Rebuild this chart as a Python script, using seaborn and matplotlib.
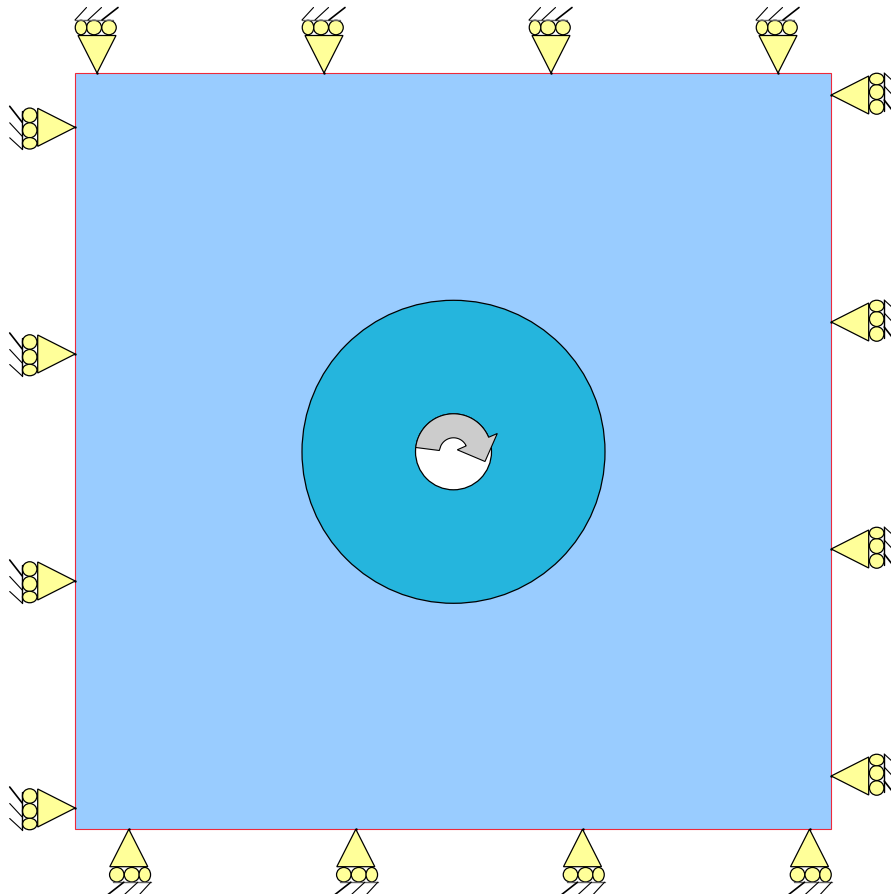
import numpy as np
import pandas as pd
import matplotlib.pyplot as plt
import seaborn as sns
from matplotlib.patches import Rectangle, Circle, Polygon, Ellipse

# support tips along each side (pixel coords of the picture)
left_tips_y = [128.3, 355, 582, 809]
right_tips_y = [96, 323, 550, 777]
top_tips_x = [97, 324, 551, 778]
bottom_tips_x = [128.8, 355.8, 582.5, 809.5]

# plate and disc
plate_x = [75.2, 831.2]
plate_y = [74, 830.2]
disc_center = (453.5, 452.8)
disc_radius = 151.5
hole_radius = 38

# support shape, depth = distance from the tip, lat = sideways
tri_depth = 37.5
tri_half = 19
roller_depth = 45.5
roller_lat = [-12, 3, 16]
roller_size = [14.5, 15, 11.5]
wall_depth = 53
wall_lat = [-16, 22]
hatch_lat = [-5, 9, 22]
hatch_reach = [16, 13.5, 11.5]
hatch_lw = [1.2, 0.8, 0.8]

# moment arrow
arrow_outer_deg = [173.5, 22.5]
arrow_inner_deg = [25, 155]
arrow_tail = (439.3, 451.5)
arrow_head = [(497.3, 434.5), (485, 462.5), (457.3, 450.8)]

PLATE_BLUE = '#99ccff'
DISC_BLUE = '#25b5dd'
YELLOW = '#ffff99'
GREY = '#cccccc'


def arc_points(radius, deg_from, deg_to):
    t = np.radians(np.linspace(deg_from, deg_to, 60))
    return np.column_stack([disc_center[0] + radius * np.cos(t), disc_center[1] - radius * np.sin(t)])


def draw_support(ax, tip, direction, lateral):
    tip = np.array(tip, dtype=float)
    d = np.array(direction, dtype=float)
    l = np.array(lateral, dtype=float)

    def pos(depth, lat):
        return tip + d * depth + l * lat

    tri = [pos(0, 0), pos(tri_depth, -tri_half), pos(tri_depth, tri_half)]
    ax.add_patch(Polygon(tri, closed=True, fc=YELLOW, ec='black', lw=0.9, zorder=3))

    for lat, size in zip(roller_lat, roller_size):
        w = size if d[0] == 0 else 14.5
        h = 14.5 if d[0] == 0 else size
        ax.add_patch(Ellipse(pos(roller_depth, lat), w, h, fc=YELLOW, ec='black', lw=0.9, zorder=3))

    # the wall line shows grey on the horizontal supports, black on the vertical ones
    wall_color = '#666666' if d[0] == 0 else 'black'
    a, b = pos(wall_depth, wall_lat[0]), pos(wall_depth, wall_lat[1])
    ax.plot([a[0], b[0]], [a[1], b[1]], color=wall_color, lw=1.0, zorder=3)
    for lat, reach, lw in zip(hatch_lat, hatch_reach, hatch_lw):
        a, b = pos(wall_depth, lat), pos(wall_depth + 12.5, lat - reach)
        ax.plot([a[0], b[0]], [a[1], b[1]], color='black', lw=lw, zorder=3)


sns.set_style('white')
fig, ax = plt.subplots(figsize=(8.91, 8.95), dpi=100)
fig.subplots_adjust(left=0, right=1, bottom=0, top=1)

ax.add_patch(Rectangle((plate_x[0], plate_y[0]), plate_x[1] - plate_x[0], plate_y[1] - plate_y[0],
                       fc=PLATE_BLUE, ec='#ee2a3a', lw=0.8, zorder=1))
ax.add_patch(Circle(disc_center, disc_radius, fc=DISC_BLUE, ec='black', lw=0.9, zorder=2))
ax.add_patch(Circle(disc_center, hole_radius, fc='white', ec='black', lw=0.9, zorder=2))

arrow = np.vstack([arc_points(hole_radius, *arrow_outer_deg), arrow_head,
                   arc_points(14, *arrow_inner_deg), [arrow_tail]])
ax.add_patch(Polygon(arrow, closed=True, fc=GREY, ec='black', lw=0.8, zorder=4))

for y in left_tips_y:
    draw_support(ax, (plate_x[0], y), (-1, 0), (0, 1))
for y in right_tips_y:
    draw_support(ax, (plate_x[1], y), (1, 0), (0, -1))
for x in top_tips_x:
    draw_support(ax, (x, plate_y[0]), (0, -1), (-1, 0))
for x in bottom_tips_x:
    draw_support(ax, (x, plate_y[1]), (0, 1), (1, 0))

# small dark dots where the supports touch the plate
tips = pd.DataFrame({
    'x': [plate_x[0]] * 4 + [plate_x[1]] * 4 + top_tips_x + bottom_tips_x,
    'y': left_tips_y + right_tips_y + [plate_y[0]] * 4 + [plate_y[1]] * 4,
})
sns.scatterplot(data=tips, x='x', y='y', ax=ax, color='black', s=3, linewidth=0, zorder=5)

ax.set_xlim(0, 891)
ax.set_ylim(895, 0)
ax.set_aspect('equal')
ax.axis('off')

plt.savefig('out.png', dpi=100)
